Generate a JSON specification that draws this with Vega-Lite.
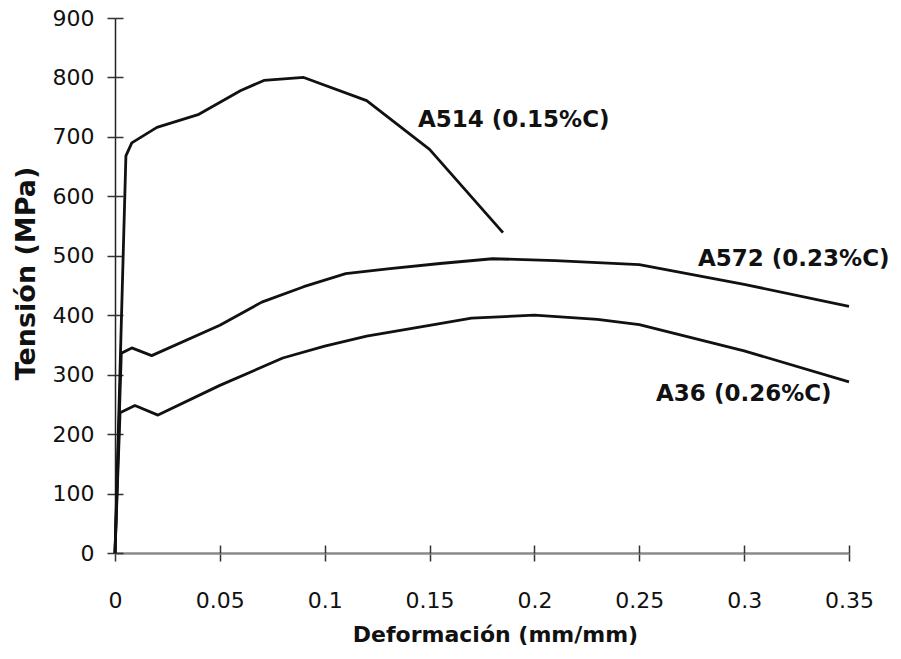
{
  "$schema": "https://vega.github.io/schema/vega-lite/v6.json",
  "autosize": {"type": "none"},
  "padding": {"left": 115, "top": 18, "right": 52, "bottom": 106},
  "width": 734,
  "height": 535,
  "background": "white",
  "config": {
    "view": {"stroke": null},
    "axis": {
      "grid": false,
      "labelFlush": false,
      "tickColor": "#333333",
      "tickWidth": 1.5,
      "labelFont": "DejaVu Sans",
      "labelFontSize": 22,
      "labelColor": "#111111",
      "titleFont": "DejaVu Sans",
      "titleFontWeight": "bold",
      "titleColor": "#111111"
    }
  },
  "datasets": {
    "curves": [
      {"serie": "A514", "i": 0, "x": 0, "y": 0},
      {"serie": "A514", "i": 1, "x": 0.0052, "y": 668},
      {"serie": "A514", "i": 2, "x": 0.008, "y": 690},
      {"serie": "A514", "i": 3, "x": 0.02, "y": 716},
      {"serie": "A514", "i": 4, "x": 0.04, "y": 738},
      {"serie": "A514", "i": 5, "x": 0.06, "y": 778},
      {"serie": "A514", "i": 6, "x": 0.071, "y": 795},
      {"serie": "A514", "i": 7, "x": 0.09, "y": 800},
      {"serie": "A514", "i": 8, "x": 0.12, "y": 761},
      {"serie": "A514", "i": 9, "x": 0.15, "y": 679},
      {"serie": "A514", "i": 10, "x": 0.185, "y": 539},
      {"serie": "A572", "i": 0, "x": 0, "y": 0},
      {"serie": "A572", "i": 1, "x": 0.003, "y": 336},
      {"serie": "A572", "i": 2, "x": 0.008, "y": 345},
      {"serie": "A572", "i": 3, "x": 0.0175, "y": 332},
      {"serie": "A572", "i": 4, "x": 0.05, "y": 383},
      {"serie": "A572", "i": 5, "x": 0.07, "y": 422},
      {"serie": "A572", "i": 6, "x": 0.09, "y": 448},
      {"serie": "A572", "i": 7, "x": 0.11, "y": 470},
      {"serie": "A572", "i": 8, "x": 0.13, "y": 478},
      {"serie": "A572", "i": 9, "x": 0.155, "y": 487},
      {"serie": "A572", "i": 10, "x": 0.18, "y": 495},
      {"serie": "A572", "i": 11, "x": 0.21, "y": 492},
      {"serie": "A572", "i": 12, "x": 0.25, "y": 485},
      {"serie": "A572", "i": 13, "x": 0.3, "y": 452},
      {"serie": "A572", "i": 14, "x": 0.35, "y": 415},
      {"serie": "A36", "i": 0, "x": 0, "y": 0},
      {"serie": "A36", "i": 1, "x": 0.0024, "y": 236},
      {"serie": "A36", "i": 2, "x": 0.0095, "y": 248},
      {"serie": "A36", "i": 3, "x": 0.0205, "y": 232},
      {"serie": "A36", "i": 4, "x": 0.05, "y": 282},
      {"serie": "A36", "i": 5, "x": 0.08, "y": 328},
      {"serie": "A36", "i": 6, "x": 0.1, "y": 348},
      {"serie": "A36", "i": 7, "x": 0.12, "y": 365},
      {"serie": "A36", "i": 8, "x": 0.15, "y": 383},
      {"serie": "A36", "i": 9, "x": 0.17, "y": 395},
      {"serie": "A36", "i": 10, "x": 0.2, "y": 400},
      {"serie": "A36", "i": 11, "x": 0.23, "y": 393},
      {"serie": "A36", "i": 12, "x": 0.25, "y": 384},
      {"serie": "A36", "i": 13, "x": 0.3, "y": 340},
      {"serie": "A36", "i": 14, "x": 0.35, "y": 288}
    ],
    "labels": [
      {"label": "A514 (0.15%C)", "x": 0.1445, "y": 728},
      {"label": "A572 (0.23%C)", "x": 0.278, "y": 495},
      {"label": "A36 (0.26%C)", "x": 0.258, "y": 268}
    ]
  },
  "resolve": {"axis": {"x": "independent", "y": "independent"}},
  "layer": [
    {
      "data": {"name": "curves"},
      "mark": {"type": "line", "color": "#111111", "strokeWidth": 2.8, "strokeJoin": "round", "clip": false},
      "encoding": {
        "x": {
          "field": "x", "type": "quantitative",
          "scale": {"domain": [0, 0.35], "nice": false, "zero": false},
          "axis": {
            "values": [0, 0.05, 0.1, 0.15, 0.2, 0.25, 0.3, 0.35],
            "format": "~g",
            "tickSize": 8,
            "domainColor": "#8a8a8a",
            "domainWidth": 2.5,
            "labelPadding": 29,
            "title": "Deformación (mm/mm)",
            "titleFontSize": 22,
            "titlePadding": 13,
            "titleX": 380
          }
        },
        "y": {
          "field": "y", "type": "quantitative",
          "scale": {"domain": [0, 900], "nice": false},
          "axis": {
            "values": [0, 100, 200, 300, 400, 500, 600, 700, 800, 900],
            "tickSize": 8,
            "domainColor": "#222222",
            "domainWidth": 1.5,
            "labelPadding": 13,
            "title": "Tensión (MPa)",
            "titleFontSize": 27,
            "titlePadding": 12,
            "titleY": 255
          }
        },
        "detail": {"field": "serie"},
        "order": {"field": "i", "type": "quantitative"}
      }
    },
    {
      "data": {"name": "labels"},
      "mark": {"type": "text", "align": "left", "baseline": "middle", "font": "DejaVu Sans", "fontSize": 23, "fontWeight": "bold", "color": "#111111"},
      "encoding": {
        "x": {"field": "x", "type": "quantitative", "axis": null},
        "y": {"field": "y", "type": "quantitative", "axis": null},
        "text": {"field": "label"}
      }
    },
    {
      "data": {"name": "curves"},
      "mark": {"type": "line", "opacity": 0},
      "encoding": {
        "x": {
          "field": "x", "type": "quantitative",
          "axis": {
            "orient": "bottom",
            "values": [0, 0.05, 0.1, 0.15, 0.2, 0.25, 0.3, 0.35],
            "tickSize": -8,
            "labels": false,
            "domain": false,
            "title": null
          }
        },
        "y": {
          "field": "y", "type": "quantitative",
          "axis": {
            "orient": "left",
            "values": [0, 100, 200, 300, 400, 500, 600, 700, 800, 900],
            "tickSize": -8,
            "labels": false,
            "domain": false,
            "title": null
          }
        },
        "detail": {"field": "serie"}
      }
    }
  ]
}
